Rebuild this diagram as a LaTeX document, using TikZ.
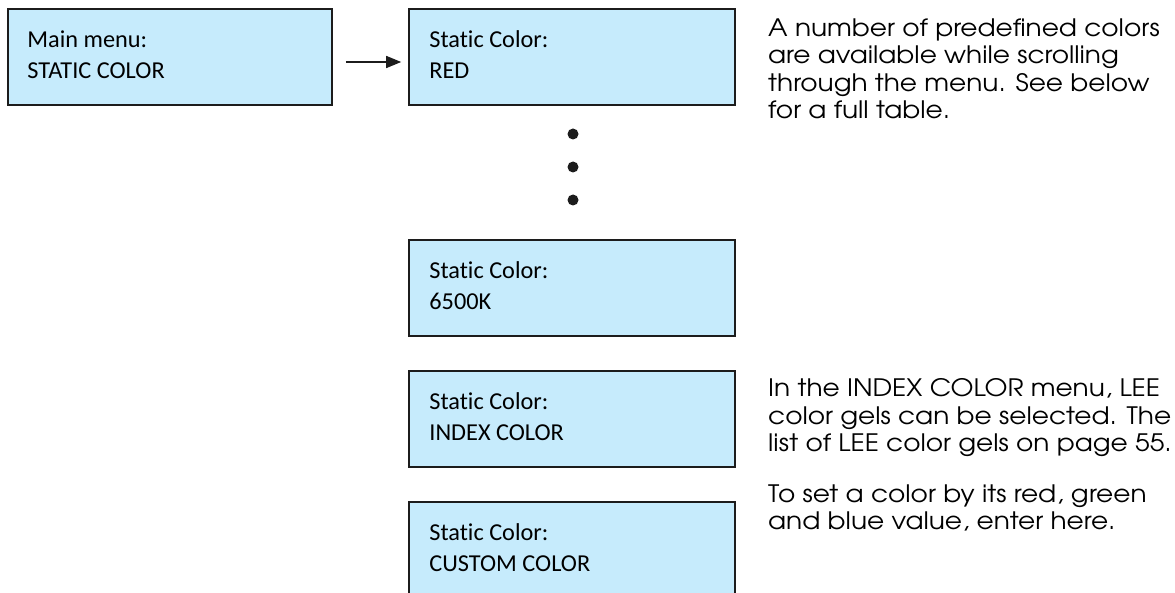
\documentclass[tikz,border=0pt]{standalone}
\usepackage{fontspec}
\setmainfont{Carlito}[Ligatures=NoCommon]
\newfontfamily\notefont[FakeStretch=1.1]{TeX Gyre Adventor}
\usetikzlibrary{arrows.meta,positioning}
\definecolor{lcdblue}{RGB}{198,235,252}
\definecolor{frame}{RGB}{28,28,28}

\begin{document}
\begin{tikzpicture}[x=1pt,y=-1pt,
	menu/.style={draw=frame, line width=1.6pt, fill=lcdblue, minimum width=326pt, minimum height=96pt, inner sep=0pt},
	lcd/.style={anchor=base west, inner sep=0pt, font=\fontsize{24.3}{31}\selectfont},
	note/.style={anchor=base west, inner sep=0pt, align=left, font=\notefont\fontsize{24}{27.3}\selectfont}]
	\path[use as bounding box, clip] (0,0) rectangle (1175,593);
	
	% Menu boxes
	\node[menu, minimum width=324pt] (main) at (170,57) {};
	\node[menu] (red) at (572,57) {};
	\node[menu] (k6500) at (572,288) {};
	\node[menu] (index) at (572,419) {};
	\node[menu] (custom) at (572,550) {};
	
	% Texts in the boxes
	\node[lcd] (mainA) at ([xshift=20pt,yshift=-39pt]main.north west) {Main menu:};
	\node[lcd] (mainB) at ([xshift=20pt,yshift=-70pt]main.north west) {STATIC COLOR};
	\node[lcd] (redA) at ([xshift=21pt,yshift=-39pt]red.north west) {Static Color:};
	\node[lcd] (redB) at ([xshift=21pt,yshift=-70pt]red.north west) {RED};
	\node[lcd] (k6500A) at ([xshift=21pt,yshift=-39pt]k6500.north west) {Static Color:};
	\node[lcd] (k6500B) at ([xshift=21pt,yshift=-70pt]k6500.north west) {6500K};
	\node[lcd] (indexA) at ([xshift=21pt,yshift=-39pt]index.north west) {Static Color:};
	\node[lcd] (indexB) at ([xshift=21pt,yshift=-70pt]index.north west) {INDEX COLOR};
	\node[lcd] (customA) at ([xshift=21pt,yshift=-39pt]custom.north west) {Static Color:};
	\node[lcd] (customB) at ([xshift=21pt,yshift=-70pt]custom.north west) {CUSTOM COLOR};
	
	% Arrow
	\draw[frame, line width=1.4pt, -{Triangle[length=15pt,width=12pt]}] ([xshift=13pt,yshift=-5pt]main.east) -- ([xshift=-7pt,yshift=-5pt]red.west);
	
	% Dots
	\foreach \y in {134,167,200}
		\fill[frame] (573,\y) circle[radius=5.5pt];
	
	% Notes (placed at the baseline of their last line)
	\node[note] (noteRed) at (768,118.6) {A number of predefined colors\\are available while scrolling\\through the menu. See below\\for a full table.};
	\node[note] (noteIndex) at (768,451.3) {In the INDEX COLOR menu, LEE\\color gels can be selected. The\\list of LEE color gels on page 55.};
	\node[note] (noteCustom) at (768,529.3) {To set a color by its red, green\\and blue value, enter here.};
\end{tikzpicture}
\end{document}
